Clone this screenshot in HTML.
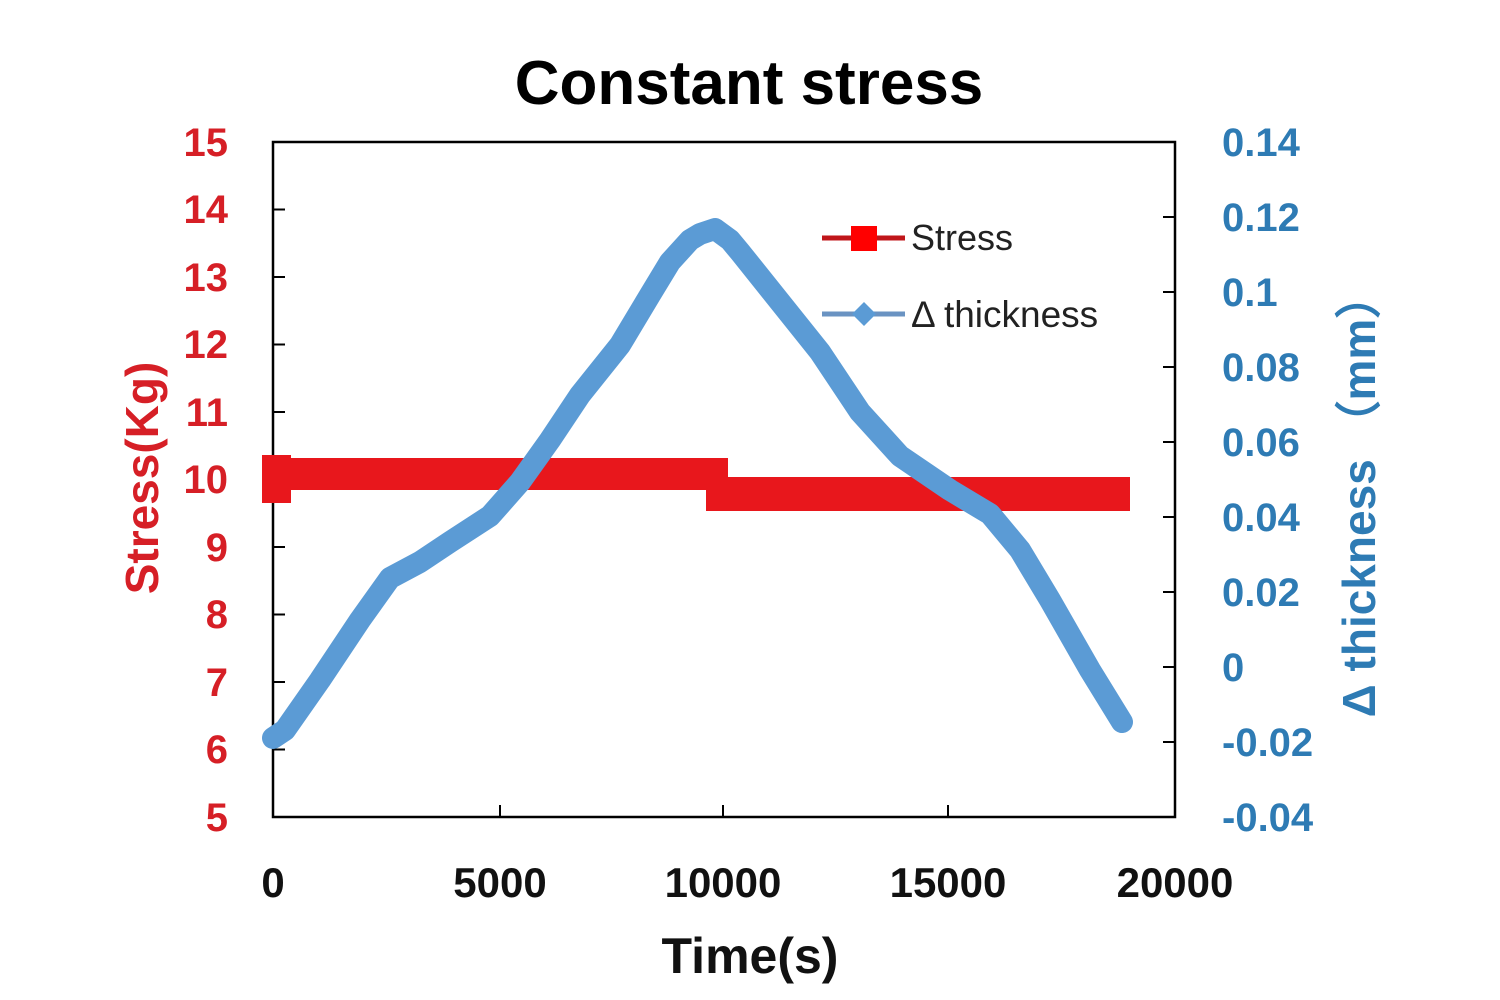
<!DOCTYPE html>
<html><head><style>body{margin:0;background:#fff}svg{display:block}</style></head><body>
<svg width="1500" height="1000" xmlns="http://www.w3.org/2000/svg" font-family="Liberation Sans, DejaVu Sans, sans-serif">
<rect width="1500" height="1000" fill="#fff"/>
<text x="749" y="104" font-size="62" font-weight="bold" text-anchor="middle" fill="#000">Constant stress</text>
<rect x="273" y="142" width="902" height="675" fill="none" stroke="#000" stroke-width="2.5"/>
<g stroke="#000" stroke-width="2">
<line x1="500" y1="817" x2="500" y2="805"/><line x1="723" y1="817" x2="723" y2="805"/><line x1="948" y1="817" x2="948" y2="805"/>
<line x1="273" y1="209.5" x2="285" y2="209.5"/><line x1="273" y1="277" x2="285" y2="277"/><line x1="273" y1="344.5" x2="285" y2="344.5"/><line x1="273" y1="412" x2="285" y2="412"/><line x1="273" y1="479.5" x2="285" y2="479.5"/><line x1="273" y1="547" x2="285" y2="547"/><line x1="273" y1="614.5" x2="285" y2="614.5"/><line x1="273" y1="682" x2="285" y2="682"/><line x1="273" y1="749.5" x2="285" y2="749.5"/>
<line x1="1163" y1="217" x2="1175" y2="217"/><line x1="1163" y1="292" x2="1175" y2="292"/><line x1="1163" y1="367" x2="1175" y2="367"/><line x1="1163" y1="442" x2="1175" y2="442"/><line x1="1163" y1="517" x2="1175" y2="517"/><line x1="1163" y1="592" x2="1175" y2="592"/><line x1="1163" y1="667" x2="1175" y2="667"/><line x1="1163" y1="742" x2="1175" y2="742"/>
</g>
<g fill="#e8171c">
<rect x="262" y="455" width="29" height="48"/>
<rect x="291" y="458" width="437" height="32"/>
<rect x="706" y="477" width="424" height="34"/>
</g>
<polyline fill="none" stroke="#5b9bd5" stroke-width="22" stroke-linejoin="round" stroke-linecap="round" points="273,738 285,730 320,680 360,620 390,578 420,562 450,542 490,516 520,482 550,440 580,395 620,345 650,295 670,262 690,240 700,234 715,229 730,240 740,252 780,302 820,352 860,412 900,456 950,490 990,514 1020,550 1050,600 1090,670 1122,722"/>
<line x1="822" y1="238" x2="905" y2="238" stroke="#c0161a" stroke-width="5"/>
<rect x="851" y="226" width="26" height="25" fill="#f00"/>
<text x="911" y="250" font-size="36" fill="#222">Stress</text>
<line x1="822" y1="314" x2="905" y2="314" stroke="#6a93c2" stroke-width="5"/>
<polygon points="864,302 876,314 864,326 852,314" fill="#5b9bd5"/>
<text x="911" y="327" font-size="37" fill="#222">Δ thickness</text>
<g font-size="40" font-weight="bold" fill="#d61f26" text-anchor="end">
<text x="228" y="156">15</text><text x="228" y="223">14</text><text x="228" y="291">13</text><text x="228" y="358">12</text><text x="228" y="426">11</text><text x="228" y="493">10</text><text x="228" y="561">9</text><text x="228" y="628">8</text><text x="228" y="696">7</text><text x="228" y="763">6</text><text x="228" y="831">5</text>
</g>
<g font-size="40" font-weight="bold" fill="#2e7bb4">
<text x="1222" y="156">0.14</text><text x="1222" y="231">0.12</text><text x="1222" y="306">0.1</text><text x="1222" y="381">0.08</text><text x="1222" y="456">0.06</text><text x="1222" y="531">0.04</text><text x="1222" y="606">0.02</text><text x="1222" y="681">0</text><text x="1222" y="756">-0.02</text><text x="1222" y="831">-0.04</text>
</g>
<g font-size="42" font-weight="bold" fill="#111" text-anchor="middle">
<text x="273" y="897">0</text><text x="500" y="897">5000</text><text x="723" y="897">10000</text><text x="948" y="897">15000</text><text x="1175" y="897">20000</text>
<text x="750" y="973" font-size="50">Time(s)</text>
</g>
<text transform="translate(158,478) rotate(-90)" font-size="46" font-weight="bold" fill="#d61f26" text-anchor="middle">Stress(Kg)</text>
<text transform="translate(1375,495) rotate(-90)" font-size="46" font-weight="bold" fill="#2e7bb4" text-anchor="middle">Δ thickness （mm）</text>
</svg>
</body></html>
